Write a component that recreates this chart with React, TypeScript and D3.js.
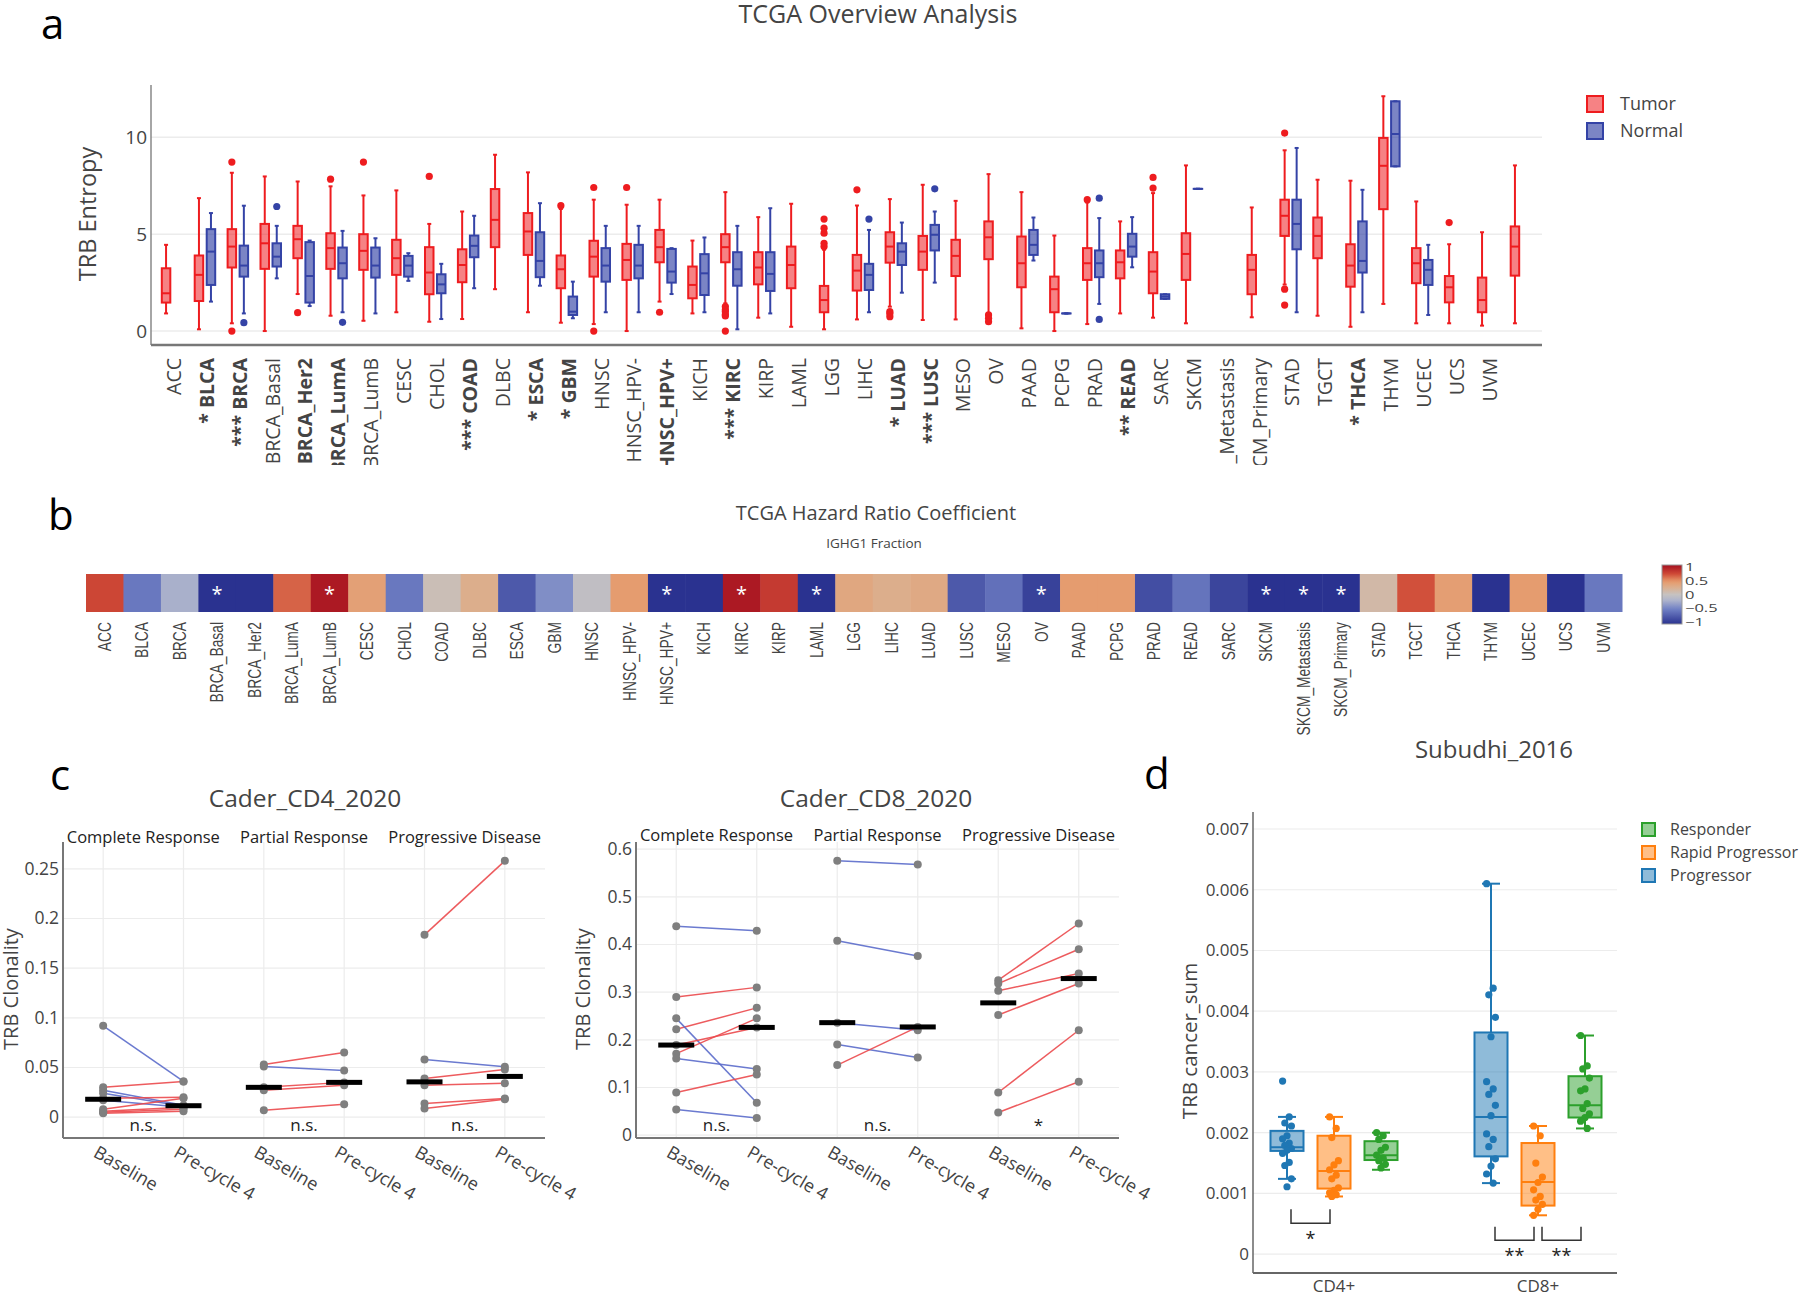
import React, { useEffect, useRef } from "react";
import * as d3 from "d3";

const FONT = "'Open Sans', sans-serif";

// ---------- a: TCGA overview, TRB entropy ----------
const tcgaCats = ["ACC", "BLCA", "BRCA", "BRCA_Basal", "BRCA_Her2", "BRCA_LumA", "BRCA_LumB", "CESC", "CHOL", "COAD",
  "DLBC", "ESCA", "GBM", "HNSC", "HNSC_HPV-", "HNSC_HPV+", "KICH", "KIRC", "KIRP", "LAML",
  "LGG", "LIHC", "LUAD", "LUSC", "MESO", "OV", "PAAD", "PCPG", "PRAD", "READ",
  "SARC", "SKCM", "SKCM_Metastasis", "SKCM_Primary", "STAD", "TGCT", "THCA", "THYM", "UCEC", "UCS",
  "UVM", ""];
const tcgaSig = ["", "*", "***", "", "*", "*", "", "", "", "***",
  "", "*", "*", "", "", "*", "", "***", "", "",
  "", "", "*", "***", "", "", "", "", "", "**",
  "", "", "", "", "", "", "*", "", "", "",
  "", ""];
const tcgaTicks = [0, 5, 10];
// [lower whisker, q1, median, q3, upper whisker]
const tumorBox = [
  [0.91, 1.47, 1.95, 3.24, 4.45], [0.09, 1.55, 2.9, 3.9, 6.86], [0.4, 3.28, 4.36, 5.26, 8.17], [0, 3.21, 4.53, 5.53, 7.98],
  [1.91, 3.76, 4.74, 5.43, 7.72], [0.79, 3.21, 4.28, 5.05, 7.47], [0.53, 3.16, 4.14, 5.0, 7.0], [0.97, 2.9, 3.76, 4.71, 7.26],
  [0.48, 1.9, 3.02, 4.33, 5.53], [0.62, 2.52, 3.41, 4.22, 6.17], [2.16, 4.33, 5.74, 7.33, 9.1], [0.97, 3.93, 5.14, 6.09, 8.19],
  [0.43, 2.21, 3.19, 3.9, 6.3], [0.36, 2.81, 3.84, 4.66, 6.78], [0, 2.64, 3.67, 4.5, 6.52], [1.52, 3.55, 4.33, 5.22, 6.78],
  [0.91, 1.69, 2.38, 3.33, 4.67], [1.43, 3.55, 4.33, 5.0, 7.17], [0.69, 2.41, 3.28, 4.07, 5.88], [0.22, 2.21, 3.41, 4.36, 6.57],
  [0.09, 0.97, 1.6, 2.33, 4.2], [0.6, 2.09, 3.12, 3.93, 6.48], [1.26, 3.53, 4.36, 5.1, 6.81], [0.57, 3.16, 4.1, 4.91, 7.55],
  [0.6, 2.84, 3.88, 4.71, 6.72], [0.91, 3.71, 4.84, 5.66, 8.1], [0.14, 2.26, 3.5, 4.88, 7.17], [0, 0.97, 2.16, 2.81, 4.93],
  [0.36, 2.64, 3.5, 4.28, 6.64], [0.91, 2.72, 3.55, 4.16, 5.66], [0.69, 1.95, 3.07, 4.07, 7.12], [0.4, 2.64, 3.98, 5.05, 8.55],
  null, [0.71, 1.9, 3.16, 3.93, 6.38], [2.4, 4.91, 5.95, 6.78, 9.33], [0.79, 3.76, 4.91, 5.86, 7.81],
  [0.22, 2.29, 3.38, 4.48, 7.76], [1.4, 6.29, 8.53, 9.97, 12.12], [0.4, 2.47, 3.5, 4.28, 6.69], [0.4, 1.48, 2.26, 2.84, 4.48],
  [0.28, 0.97, 1.6, 2.76, 5.1], [0.4, 2.86, 4.36, 5.4, 8.55]];
const tumorOut = [[], [], [8.72, 0], [], [0.95], [7.84], [8.72], [], [7.98], [], [], [], [6.47], [7.41, 0], [7.41], [0.97],
  [], [1.26, 1.1, 1.0, 0.85, 0.78, 0], [], [], [4.36, 4.53, 5.05, 5.31, 5.78], [7.29], [1.0, 0.9, 0.74], [], [],
  [0.83, 0.66, 0.48], [], [], [6.78], [], [7.93, 7.38], [], [], [], [10.22, 2.16, 1.34], [], [], [], [], [5.6], [], []];
const normalBox = [
  null, [1.52, 2.38, 4.1, 5.26, 6.09], [0.91, 2.81, 3.38, 4.41, 6.47], [2.72, 3.33, 3.84, 4.53, 5.43],
  [1.29, 1.47, 2.84, 4.59, 4.67], [0.97, 2.72, 3.5, 4.31, 5.17], [0.91, 2.76, 3.38, 4.31, 4.79], [2.59, 2.81, 3.38, 3.88, 4.02],
  [0.62, 1.95, 2.41, 2.93, 3.47], [2.21, 3.81, 4.4, 4.93, 5.95], null, [2.34, 2.78, 3.62, 5.1, 6.6],
  [0.66, 0.83, 1.0, 1.78, 2.55], [0.97, 2.55, 3.38, 4.28, 5.43], [0.97, 2.72, 3.38, 4.45, 5.43], [1.91, 2.5, 3.07, 4.24, 4.28],
  [0.97, 1.86, 2.98, 3.97, 4.83], [0.09, 2.34, 3.19, 4.07, 5.43], [0.91, 2.07, 2.95, 4.07, 6.34], null,
  null, [0.97, 2.12, 2.9, 3.47, 5.22], [1.98, 3.41, 4.1, 4.53, 5.6], [2.5, 4.16, 4.97, 5.48, 6.17],
  null, null, [3.64, 3.93, 4.45, 5.22, 5.86], [0.91, 0.91, 0.91, 0.91, 0.91],
  [1.4, 2.78, 3.5, 4.16, 5.83], [3.29, 3.84, 4.36, 5.02, 5.88], [1.66, 1.66, 1.78, 1.9, 1.9], [7.34, 7.34, 7.34, 7.34, 7.34],
  null, null, [0.97, 4.22, 5.53, 6.78, 9.45], null,
  [0.97, 3.02, 3.62, 5.66, 7.29], [8.5, 8.5, 10.17, 11.86, 11.86], [0.83, 2.38, 3.16, 3.67, 4.45], null,
  null, null];
const normalOut = [[], [], [0.43], [6.43], [], [0.45], [], [], [], [], [], [], [], [], [], [],
  [], [], [], [], [], [5.78], [], [7.34], [], [], [], [], [6.86, 0.6], [], [], [], [], [], [], [], [], [], [], [], [], []];

// ---------- b: hazard ratio coefficient ----------
const hrCats = ["ACC", "BLCA", "BRCA", "BRCA_Basal", "BRCA_Her2", "BRCA_LumA", "BRCA_LumB", "CESC", "CHOL", "COAD",
  "DLBC", "ESCA", "GBM", "HNSC", "HNSC_HPV-", "HNSC_HPV+", "KICH", "KIRC", "KIRP", "LAML",
  "LGG", "LIHC", "LUAD", "LUSC", "MESO", "OV", "PAAD", "PCPG", "PRAD", "READ",
  "SARC", "SKCM", "SKCM_Metastasis", "SKCM_Primary", "STAD", "TGCT", "THCA", "THYM", "UCEC", "UCS", "UVM"];
const hrValues = [0.72, -0.55, -0.22, -1, -1, 0.62, 0.95, 0.38, -0.55, 0.05,
  0.25, -0.75, -0.42, -0.05, 0.42, -1, -1, 0.95, 0.78, -1,
  0.32, 0.25, 0.3, -0.75, -0.6, -0.9, 0.42, 0.42, -0.82, -0.58,
  -0.88, -1, -1, -1, 0.12, 0.68, 0.4, -1, 0.42, -1, -0.55];
const hrSigCats = ["BRCA_Basal", "BRCA_LumB", "HNSC_HPV+", "KIRC", "LAML", "OV", "SKCM", "SKCM_Metastasis", "SKCM_Primary"];
const hrTicks = [1, 0.5, 0, -0.5, -1];
const hrStops = [-1, -0.5, -0.2, 0, 0.25, 0.45, 0.7, 1];
const hrColors = ["#2a3290", "#7080c4", "#adb3cc", "#c6c2c0", "#dcae8c", "#e6996a", "#cf4a37", "#a50f1f"];

// ---------- c: Cader 2020 ----------
const caderFacets = ["Complete Response", "Partial Response", "Progressive Disease"];
const caderTimes = ["Baseline", "Pre-cycle 4"];
const cd4Base = [[0.092, 0.030, 0.027, 0.024, 0.019, 0.017, 0.008, 0.006, 0.005, 0.004],
  [0.053, 0.051, 0.030, 0.027, 0.007],
  [0.1835, 0.058, 0.039, 0.032, 0.0138, 0.0087]];
const cd4Pre = [[0.036, 0.036, 0.012, 0.011, 0.020, 0.010, 0.019, 0.010, 0.008, 0.006],
  [0.065, 0.047, 0.035, 0.032, 0.013],
  [0.258, 0.0507, 0.048, 0.034, 0.0188, 0.018]];
const cd4Sig = ["n.s.", "n.s.", "n.s."];
const cd4Ticks = [0, 0.05, 0.1, 0.15, 0.2, 0.25];
const cd8Base = [[0.4385, 0.290, 0.222, 0.245, 0.171, 0.189, 0.161, 0.0895, 0.054],
  [0.5755, 0.4077, 0.236, 0.190, 0.147],
  [0.325, 0.318, 0.303, 0.252, 0.0895, 0.0476]];
const cd8Pre = [[0.429, 0.310, 0.267, 0.068, 0.245, 0.226, 0.139, 0.127, 0.036],
  [0.568, 0.376, 0.220, 0.163, 0.227],
  [0.444, 0.390, 0.339, 0.318, 0.220, 0.112]];
const cd8Sig = ["n.s.", "n.s.", "*"];
const cd8Ticks = [0, 0.1, 0.2, 0.3, 0.4, 0.5, 0.6];

// ---------- d: Subudhi 2016 ----------
const subGroups = ["CD4+", "CD8+"];
const subConds = ["Progressor", "Rapid Progressor", "Responder"];
const subColors = ["#1f77b4", "#ff7f0e", "#2ca02c"];
const subTicks = [0, 0.001, 0.002, 0.003, 0.004, 0.005, 0.006, 0.007];
// stats in units of 1e-3: [lower whisker, q1, median, q3, upper whisker]
const subStats = [
  [[1.24, 1.70, 1.76, 2.03, 2.26], [0.95, 1.08, 1.37, 1.95, 2.26], [1.39, 1.55, 1.63, 1.86, 2.0]],
  [[1.17, 1.61, 2.26, 3.65, 6.10], [0.64, 0.80, 1.19, 1.83, 2.11], [2.07, 2.25, 2.45, 2.93, 3.60]]];
const subPoints = [
  [[2.85, 2.26, 2.16, 2.11, 1.95, 1.90, 1.83, 1.79, 1.74, 1.71, 1.66, 1.51, 1.46, 1.24, 1.11],
    [2.26, 2.07, 1.92, 1.54, 1.47, 1.39, 1.30, 1.24, 1.09, 1.05, 1.01, 0.98, 0.95],
    [2.0, 1.95, 1.89, 1.76, 1.71, 1.63, 1.58, 1.54, 1.48, 1.42]],
  [[6.1, 4.38, 4.27, 3.9, 3.58, 2.84, 2.72, 2.63, 2.45, 2.28, 1.98, 1.89, 1.77, 1.57, 1.45, 1.32, 1.17],
    [2.11, 1.95, 1.50, 1.27, 1.18, 1.06, 0.95, 0.89, 0.82, 0.74, 0.64],
    [3.6, 3.10, 3.05, 2.90, 2.72, 2.69, 2.48, 2.40, 2.31, 2.25, 2.19, 2.07]]];
const subComparisons = [
  { group: 0, a: 0, b: 1, top: 0.74, bottom: 0.51, label: "*", labelAt: 0.15 },
  { group: 1, a: 0, b: 1, top: 0.45, bottom: 0.23, label: "**", labelAt: -0.13 },
  { group: 1, a: 1, b: 2, top: 0.45, bottom: 0.23, label: "**", labelAt: -0.13 }];


export default function App() {
  const svgRef = useRef(null);

  useEffect(() => {
    const svg = d3.select(svgRef.current);
    svg.selectAll("*").remove();
    svg.style("font-family", FONT);

    const txt = (g, x, y, s, size, fill = "#444", anchor = "middle") =>
      g.append("text").attr("x", x).attr("y", y).attr("text-anchor", anchor)
        .style("font-size", size + "px").attr("fill", fill).text(s);

    const hline = (g, x1, x2, y, stroke, w) => g.append("line").attr("x1", x1).attr("x2", x2)
      .attr("y1", y).attr("y2", y).attr("stroke", stroke).attr("stroke-width", w);
    const vline = (g, x, y1, y2, stroke, w) => g.append("line").attr("x1", x).attr("x2", x)
      .attr("y1", y1).attr("y2", y2).attr("stroke", stroke).attr("stroke-width", w);

    function drawBox(g, cx, bw, capW, s, out, stroke, fill, y, r, lw) {
      vline(g, cx, y(s[0]), y(s[1]), stroke, lw);
      vline(g, cx, y(s[3]), y(s[4]), stroke, lw);
      hline(g, cx - capW / 2, cx + capW / 2, y(s[0]), stroke, lw);
      hline(g, cx - capW / 2, cx + capW / 2, y(s[4]), stroke, lw);
      g.append("rect").attr("x", cx - bw / 2).attr("y", y(s[3])).attr("width", bw)
        .attr("height", Math.max(0.01, y(s[1]) - y(s[3])))
        .attr("fill", fill).attr("stroke", stroke).attr("stroke-width", lw);
      hline(g, cx - bw / 2, cx + bw / 2, y(s[2]), stroke, lw);
      out.forEach(v => g.append("circle").attr("cx", cx).attr("cy", y(v)).attr("r", r).attr("fill", stroke));
    }

    // panel letters
    [["a", 41, 39], ["b", 48, 530], ["c", 50, 790], ["d", 1144, 789]].forEach(([l, x, y]) =>
      txt(svg, x, y, l, 42, "#000", "start"));

    /////////////////////// a ///////////////////////
    const gA = svg.append("g");
    const xA = d3.scalePoint().domain(d3.range(tcgaCats.length)).range([151, 1542]).padding(0.64);
    const yA = d3.scaleLinear().domain([-0.72, 12.7]).range([345, 85]);
    txt(gA, 878, 23, "TCGA Overview Analysis", 25);
    tcgaTicks.forEach(t => {
      hline(gA, 151, 1542, yA(t), "#ececec", 1.5);
      txt(gA, 147, yA(t) + 7, String(t), 19, "#444", "end");
    });
    vline(gA, 151, 85, 345, "#888", 1.5);
    hline(gA, 151, 1542, 345, "#777", 2.5);
    gA.append("text").attr("transform", "translate(96,214) rotate(-90)").attr("text-anchor", "middle")
      .style("font-size", "23.5px").attr("fill", "#444").text("TRB Entropy");

    const tumorStroke = "#ee1c1f", tumorFill = "rgba(238,28,31,0.55)";
    const normalStroke = "#3443a6", normalFill = "rgba(52,67,166,0.65)";
    tcgaCats.forEach((c, i) => {
      const cx = xA(i);
      if (tumorBox[i]) drawBox(gA, cx - 6, 8.5, 4, tumorBox[i], tumorOut[i], tumorStroke, tumorFill, yA, 3.6, 2);
      if (normalBox[i]) drawBox(gA, cx + 6, 8.5, 4, normalBox[i], normalOut[i], normalStroke, normalFill, yA, 3.6, 2);
    });

    const defs = svg.append("defs");
    defs.append("clipPath").attr("id", "clipA").append("rect")
      .attr("x", 0).attr("y", 350).attr("width", 1800).attr("height", 115);
    const labA = gA.append("g").attr("clip-path", "url(#clipA)");
    tcgaCats.forEach((c, i) => {
      if (!c) return;
      labA.append("text").attr("transform", `translate(${xA(i) + 2},358) rotate(-90)`)
        .attr("text-anchor", "end").attr("dy", "0.35em")
        .style("font-size", "19.5px").style("font-weight", tcgaSig[i] ? "bold" : "normal")
        .attr("fill", "#444").text(tcgaSig[i] ? tcgaSig[i] + " " + c : c);
    });

    [["Tumor", tumorStroke, tumorFill, 96], ["Normal", normalStroke, normalFill, 123]].forEach(([n, s, f, y]) => {
      gA.append("rect").attr("x", 1587).attr("y", y).attr("width", 16).attr("height", 16)
        .attr("fill", f).attr("stroke", s).attr("stroke-width", 2);
      txt(gA, 1620, y + 14, n, 18, "#444", "start");
    });

    /////////////////////// b ///////////////////////
    const gB = svg.append("g");
    const xB = d3.scaleBand().domain(hrCats).range([86, 1622]);
    const colB = d3.scaleLinear().domain(hrStops).range(hrColors).interpolate(d3.interpolateRgb).clamp(true);
    txt(gB, 876, 520, "TCGA Hazard Ratio Coefficient", 20);
    txt(gB, 874, 548, "IGHG1 Fraction", 13.5);
    hrCats.forEach((c, i) => {
      gB.append("rect").attr("x", xB(c)).attr("y", 574).attr("width", xB.bandwidth() + 0.5).attr("height", 38)
        .attr("fill", colB(hrValues[i]));
      if (hrSigCats.includes(c)) txt(gB, xB(c) + xB.bandwidth() / 2, 601, "*", 20, "#fff");
      gB.append("text").attr("transform", `translate(${xB(c) + xB.bandwidth() / 2},622) scale(1.3,1) rotate(-90)`)
        .attr("text-anchor", "end").attr("dy", "0.35em")
        .style("font-family", "'Liberation Sans', Arial, sans-serif")
        .style("font-size", "13.8px").attr("fill", "#444").text(c);
    });
    const grad = defs.append("linearGradient").attr("id", "hrGrad")
      .attr("x1", 0).attr("x2", 0).attr("y1", 1).attr("y2", 0);
    d3.range(0, 1.0001, 0.05).forEach(t => grad.append("stop").attr("offset", t).attr("stop-color", colB(-1 + 2 * t)));
    const yCb = d3.scaleLinear().domain([-1, 1]).range([622, 567]);
    gB.append("rect").attr("x", 1662).attr("y", 565).attr("width", 20).attr("height", 59)
      .attr("fill", "url(#hrGrad)").attr("stroke", "#999").attr("stroke-width", 1);
    hrTicks.forEach(t => gB.append("text")
      .attr("transform", `translate(1685,${yCb(t) + 4}) scale(1.5,1)`)
      .style("font-size", "11px").attr("fill", "#444")
      .text(t < 0 ? "\u2212" + Math.abs(t) : String(t)));

    /////////////////////// c ///////////////////////
    function drawCader(x0, x1, domain, ticks, base, pre, sig, title, titleX, labelX, facetTitleY) {
      const g = svg.append("g");
      const yT = 842, yB = 1138;
      const y = d3.scaleLinear().domain(domain).range([yB, yT]);
      const fx = d3.scaleBand().domain(caderFacets).range([x0, x1]);
      const tx = d3.scalePoint().domain(caderTimes).range([0, fx.bandwidth()]).padding(0.5);
      txt(g, titleX, 807, title, 24.5);
      ticks.forEach(t => {
        hline(g, x0, x1, y(t), "#ececec", 1.2);
        txt(g, x0 - 4, y(t) + 6, String(t), 17.5, "#444", "end");
      });
      caderFacets.forEach(f => caderTimes.forEach(t => vline(g, fx(f) + tx(t), yT, yB, "#ececec", 1.2)));
      vline(g, x0, yT, yB, "#777", 2);
      hline(g, x0, x1, yB, "#777", 2);
      g.append("text").attr("transform", `translate(${labelX},989) rotate(-90)`).attr("text-anchor", "middle")
        .style("font-size", "20px").attr("fill", "#444").text("TRB Clonality");

      caderFacets.forEach((f, fi) => {
        const xb = fx(f) + tx(caderTimes[0]), xp = fx(f) + tx(caderTimes[1]);
        txt(g, fx(f) + fx.bandwidth() / 2, facetTitleY, f, 16.5, "#222");
        base[fi].forEach((b, k) => {
          const p = pre[fi][k];
          g.append("line").attr("x1", xb).attr("x2", xp).attr("y1", y(b)).attr("y2", y(p))
            .attr("stroke", p > b ? "#ec4a4d" : "#5b6ccb").attr("stroke-width", 1.5).attr("opacity", 0.9);
        });
        [[xb, base[fi]], [xp, pre[fi]]].forEach(([x, vals]) => {
          vals.forEach(v => g.append("circle").attr("cx", x).attr("cy", y(v)).attr("r", 4).attr("fill", "#7f7f7f"));
          g.append("rect").attr("x", x - 18).attr("y", y(d3.median(vals)) - 2.5).attr("width", 36).attr("height", 5)
            .attr("fill", "#000");
        });
        txt(g, fx(f) + fx.bandwidth() / 2, 1131, sig[fi], 17, "#222");
        caderTimes.forEach(t => g.append("text")
          .attr("transform", `translate(${fx(f) + tx(t) - 11},1156) rotate(30)`)
          .style("font-size", "18px").attr("fill", "#444").text(t));
      });
    }
    drawCader(63, 545, [-0.021, 0.277], cd4Ticks, cd4Base, cd4Pre, cd4Sig, "Cader_CD4_2020", 305, 18, 843);
    drawCader(636, 1119, [-0.006, 0.615], cd8Ticks, cd8Base, cd8Pre, cd8Sig, "Cader_CD8_2020", 876, 590, 841);

    /////////////////////// d ///////////////////////
    const gD = svg.append("g");
    const yD = d3.scaleLinear().domain([-0.00031, 0.00728]).range([1273, 812]);
    const xD = d3.scalePoint().domain(subGroups).range([1334, 1538]);
    const oD = d3.scalePoint().domain(subConds).range([-47, 47]);
    txt(gD, 1494, 758, "Subudhi_2016", 24);
    subTicks.forEach(t => {
      hline(gD, 1253, 1617, yD(t), "#ececec", 1.2);
      txt(gD, 1249, yD(t) + 6, t === 0 ? "0" : d3.format(".3f")(t), 17, "#444", "end");
    });
    vline(gD, 1253, 812, 1273, "#666", 1.5);
    hline(gD, 1253, 1617, 1273, "#666", 2);
    gD.append("text").attr("transform", "translate(1197,1041) rotate(-90)").attr("text-anchor", "middle")
      .style("font-size", "20.5px").attr("fill", "#444").text("TRB cancer_sum");
    const yMilli = v => yD(v / 1000);
    subGroups.forEach((grp, gi) => {
      txt(gD, xD(grp), 1292, grp, 17);
      subConds.forEach((cond, ci) => {
        const cx = xD(grp) + oD(cond);
        const col = subColors[ci];
        const fill = d3.color(col).copy({ opacity: 0.5 }).toString();
        drawBox(gD, cx, 33, 18, subStats[gi][ci], [], col, fill, yMilli, 3.5, 2);
        subPoints[gi][ci].forEach((v, k) => gD.append("circle")
          .attr("cx", cx + ((k * 3) % 5 - 2) * 2.2).attr("cy", yMilli(v)).attr("r", 3.6).attr("fill", col));
      });
    });
    subComparisons.forEach(c => {
      const g0 = subGroups[c.group];
      const xa = xD(g0) + oD(subConds[c.a]) + 4, xb = xD(g0) + oD(subConds[c.b]) - 4;
      gD.append("path").attr("d", `M${xa},${yMilli(c.top)}V${yMilli(c.bottom)}H${xb}V${yMilli(c.top)}`)
        .attr("fill", "none").attr("stroke", "#333").attr("stroke-width", 1.5);
      txt(gD, (xa + xb) / 2, yMilli(c.labelAt), c.label, 18, "#222");
    });
    [...subConds].reverse().forEach((cond, k) => {
      const ci = subConds.indexOf(cond);
      const y0 = 823 + k * 23;
      gD.append("rect").attr("x", 1642).attr("y", y0).attr("width", 13).attr("height", 13)
        .attr("fill", d3.color(subColors[ci]).copy({ opacity: 0.5 }).toString())
        .attr("stroke", subColors[ci]).attr("stroke-width", 2);
      txt(gD, 1670, y0 + 12, cond, 16, "#444", "start");
    });
  }, []);

  return (
    <svg ref={svgRef} width={1800} height={1293}
      style={{ position: "absolute", left: 0, top: 0, background: "#fff" }} />
  );
}
